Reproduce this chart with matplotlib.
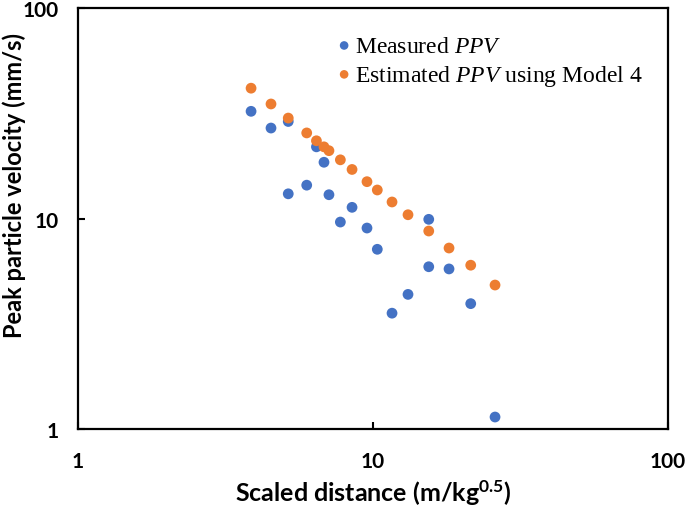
import matplotlib
matplotlib.use("Agg")
import matplotlib.pyplot as plt
from matplotlib.ticker import FixedLocator, FixedFormatter

# Measured PPV (blue)
meas_sd = [3.86, 4.51, 5.16, 5.16, 5.96, 6.43, 6.82, 7.09, 7.75, 8.49,
           9.54, 10.34, 11.60, 13.14, 15.45, 15.45, 18.10, 21.44, 25.92]
meas_ppv = [32.3, 26.9, 28.9, 13.1, 14.4, 21.9, 18.5, 12.97, 9.62, 11.30,
            9.01, 7.14, 3.55, 4.36, 9.91, 5.90, 5.76, 3.94, 1.14]

# Estimated PPV with Model 4 (orange)
est_sd = [3.86, 4.51, 5.16, 5.96, 6.43, 6.82, 7.09, 7.75, 8.49, 9.54,
          10.34, 11.60, 13.14, 15.45, 18.10, 21.44, 25.92]
est_ppv = [41.6, 35.0, 30.0, 25.5, 23.4, 21.9, 21.0, 19.0, 17.1, 14.96,
           13.66, 11.98, 10.42, 8.72, 7.24, 6.00, 4.83]

ticks = [1, 10, 100]
tick_labels = ['1', '10', '100']

plt.rcParams['font.family'] = ['Lato', 'DejaVu Sans']
plt.rcParams['mathtext.fontset'] = 'custom'
plt.rcParams['mathtext.rm'] = 'Lato'
plt.rcParams['mathtext.bf'] = 'Lato:bold'
plt.rcParams['mathtext.it'] = 'Liberation Serif:italic'

fig = plt.figure(figsize=(6.85, 5.06), dpi=100)
ax = fig.add_axes([0.1139, 0.1502, 0.8613, 0.832])

ax.scatter(meas_sd, meas_ppv, s=60, color='#4472C4', edgecolors='none',
           label='Measured $\\mathit{PPV}$', zorder=3)
ax.scatter(est_sd, est_ppv, s=60, color='#ED7D31', edgecolors='none',
           label='Estimated $\\mathit{PPV}$ using Model 4', zorder=3)

ax.set_xscale('log')
ax.set_yscale('log')
ax.set_xlim(1, 100)
ax.set_ylim(1, 100)

for axis in (ax.xaxis, ax.yaxis):
    axis.set_major_locator(FixedLocator(ticks))
    axis.set_major_formatter(FixedFormatter(tick_labels))
    axis.set_minor_locator(FixedLocator([]))

ax.tick_params(which='major', direction='in', length=5, width=1.5)
ax.tick_params(axis='x', pad=16, labelsize=15)
ax.tick_params(axis='y', pad=14, labelsize=15)
for lbl in ax.get_xticklabels() + ax.get_yticklabels():
    lbl.set_fontweight('bold')

for sp in ax.spines.values():
    sp.set_linewidth(1.6)
    sp.set_color('black')

ax.set_xlabel('Scaled distance (m/kg$^{\\mathbf{0.5}}$)', fontsize=18,
              fontweight='bold')
ax.set_ylabel('Peak particle velocity (mm/s)', fontsize=17,
              fontweight='bold')
ax.xaxis.set_label_coords(0.5, -0.115)
ax.yaxis.set_label_coords(-0.088, 0.58)

leg = ax.legend(loc='upper left', bbox_to_anchor=(0.395, 0.958), frameon=False,
                prop={'family': 'Liberation Serif', 'size': 17},
                handletextpad=-0.55, labelspacing=0.25, markerscale=0.8,
                borderaxespad=0)

fig.savefig('out.png', dpi=100)
